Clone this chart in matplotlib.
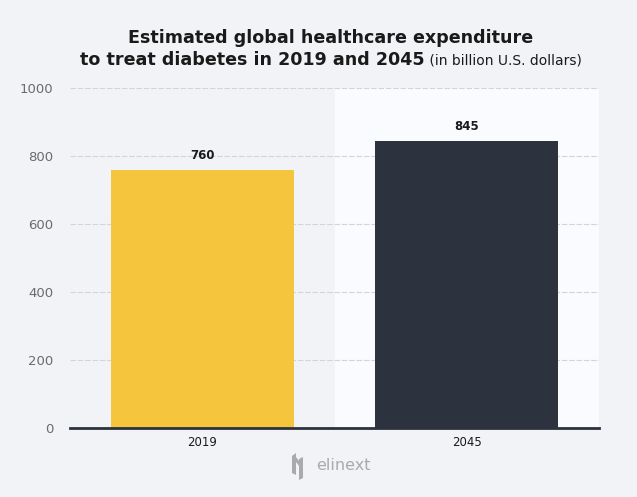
import matplotlib
matplotlib.use("Agg")
import matplotlib.pyplot as plt
from matplotlib.patches import Polygon

categories = ["2019", "2045"]
values = [760, 845]
bar_colors = ["#f4c53d", "#2c323e"]
yticks = [0, 200, 400, 600, 800, 1000]

BG = "#f2f3f6"
BAND = "#fafbfe"

fig = plt.figure(figsize=(6.37, 4.97), dpi=100, facecolor=BG)
ax = fig.add_axes([70/637, 1-428/497, 529/637, 340/497])
ax.set_facecolor(BG)

x = list(range(len(categories)))
ax.set_xlim(-0.5, len(categories) - 0.5)
ax.set_ylim(0, 1000)

# white band behind the second category
ax.axvspan(0.5, 1.5, color=BAND, zorder=0)

for yv in yticks[1:]:
    ax.axhline(yv, color="#d3d4d8", lw=0.8, ls=(0, (5, 1.6)), zorder=1)

bars = ax.bar(x, values, width=0.69, color=bar_colors, zorder=2)
for xi, v in zip(x, values):
    ax.text(xi, v + 22, f"{v}", ha="center", va="bottom", fontsize=8.5,
            fontweight="bold", color="#1a1a1a", zorder=3)

ax.set_xticks(x)
ax.set_xticklabels(categories, fontsize=8.5, color="#1a1a1a")
ax.set_yticks(yticks)
ax.set_yticklabels([str(t) for t in yticks], fontsize=9.5, color="#6b6b6b")
ax.tick_params(axis="both", length=0)
ax.tick_params(axis="y", pad=12)
ax.tick_params(axis="x", pad=6)
for s in ["top", "right", "left"]:
    ax.spines[s].set_visible(False)
ax.spines["bottom"].set_color("#2c323e")
ax.spines["bottom"].set_linewidth(2)
ax.spines["bottom"].set_zorder(4)

# title
CX = 331 / 637
fig.text(CX, 1-38/497, "Estimated global healthcare expenditure", ha="center",
         va="center", fontsize=12.6, fontweight="bold", color="#1a1a1a")
fig.canvas.draw()
r = fig.canvas.get_renderer()
t2a = fig.text(0, 1-60/497, "to treat diabetes in 2019 and 2045", ha="left",
               va="center", fontsize=12.6, fontweight="bold", color="#1a1a1a")
t2b = fig.text(0, 1-61/497, " (in billion U.S. dollars)", ha="left",
               va="center", fontsize=10, color="#1a1a1a")
wa = t2a.get_window_extent(r).width
wb = t2b.get_window_extent(r).width
W = fig.bbox.width
start = CX * W - (wa + wb) / 2
t2a.set_x(start / W)
t2b.set_x((start + wa) / W)

# logo
fig.text(316/637, 1-466/497, "elinext", ha="left", va="center", fontsize=11.5,
         color="#a9aaad")
G = "#a9aaad"
def px(pts):
    return [(a/637, 1-b/497) for a, b in pts]
fig.patches.append(Polygon(px([(292, 456), (296, 453), (296, 475), (292, 473)]),
                           closed=True, transform=fig.transFigure,
                           facecolor=G, edgecolor="none"))
fig.patches.append(Polygon(px([(296, 457), (303, 466), (303, 471), (296, 462)]),
                           closed=True, transform=fig.transFigure,
                           facecolor=G, edgecolor="none"))
fig.patches.append(Polygon(px([(299, 459), (303, 457), (303, 478), (299, 480)]),
                           closed=True, transform=fig.transFigure,
                           facecolor=G, edgecolor="none"))

fig.savefig("out.png", dpi=100, facecolor=BG)
